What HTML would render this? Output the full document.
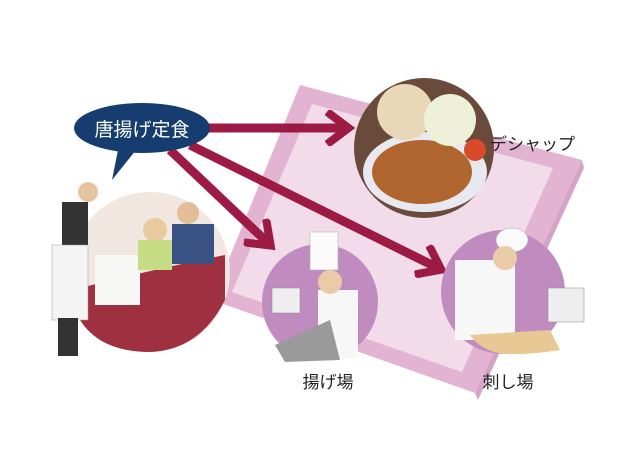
<!DOCTYPE html>
<html><head><meta charset="utf-8"><style>
body{margin:0;width:640px;height:467px;background:#fff;overflow:hidden;font-family:"Liberation Sans","Noto Sans CJK JP",sans-serif}
</style></head><body>
<svg width="640" height="467" viewBox="0 0 640 467" xmlns="http://www.w3.org/2000/svg">
<defs>
<marker id="ah" markerWidth="4" markerHeight="4" refX="2.2" refY="2" orient="auto" markerUnits="strokeWidth">
<path d="M0.2,0.2 L2.6,2 L0.2,3.8" fill="none" stroke="#9c1a43" stroke-width="0.9"/>
</marker>
</defs>
<polygon points="300,85 582,160 475,393 212,300" fill="#e2b4d2"/>
<polygon points="582,160 584,168 478,400 475,393" fill="#d6a2c6"/>
<polygon points="312,104 553,168 462,372 232,292" fill="#f2dce9"/>
<g stroke="#9c1a43" stroke-width="9" fill="none" marker-end="url(#ah)">
<line x1="200" y1="128" x2="345" y2="128"/>
<line x1="170" y1="150" x2="268" y2="243"/>
<line x1="190" y1="145" x2="438" y2="268"/>
</g>
<circle cx="150" cy="272" r="80" fill="#f1e6e0"/>
<path d="M72,290 Q150,270 225,255 L225,300 Q200,350 150,352 Q100,352 80,320Z" fill="#9e3040"/>
<rect x="95" y="255" width="45" height="50" fill="#f7f7f5"/>
<circle cx="155" cy="230" r="12" fill="#e9c9a0"/>
<rect x="138" y="240" width="34" height="30" fill="#c7dd85"/>
<circle cx="188" cy="213" r="11" fill="#e2bd95"/>
<rect x="172" y="224" width="42" height="40" fill="#3a5283"/>
<circle cx="88" cy="192" r="10" fill="#e5c4a0"/>
<rect x="62" y="202" width="26" height="50" fill="#333"/>
<rect x="52" y="245" width="36" height="75" fill="#f4f4f4" stroke="#999" stroke-width="0.5"/>
<rect x="58" y="318" width="20" height="38" fill="#333"/>
<path d="M118,150 L112,180 L136,150Z" fill="#163d70"/>
<ellipse cx="142" cy="128" rx="68" ry="25" fill="#163d70"/>
<text x="142" y="136" text-anchor="middle" font-size="19" fill="#fff">唐揚げ定食</text>
<circle cx="424" cy="148" r="70" fill="#6a4a3a"/>
<ellipse cx="425" cy="172" rx="62" ry="40" fill="#e8e8f0"/>
<circle cx="405" cy="112" r="28" fill="#e9d8b8"/>
<ellipse cx="422" cy="172" rx="50" ry="32" fill="#b0652e"/>
<circle cx="450" cy="120" r="26" fill="#eef0d8"/>
<circle cx="475" cy="150" r="11" fill="#d84a2a"/>
<text x="490" y="150" font-size="17" fill="#222">デシャップ</text>
<circle cx="320" cy="302" r="58" fill="#c08cc0"/>
<rect x="318" y="290" width="40" height="68" fill="#f7f7f7"/>
<rect x="310" y="232" width="28" height="38" fill="#fafafa" stroke="#aaa" stroke-width="0.5"/>
<circle cx="330" cy="282" r="12" fill="#e9cba8"/>
<rect x="272" y="288" width="28" height="25" fill="#eee" stroke="#888" stroke-width="0.5"/>
<path d="M275,345 L330,320 L340,360 L285,362Z" fill="#9a9a9a"/>
<circle cx="503" cy="292" r="62" fill="#c08cc0"/>
<rect x="455" y="260" width="60" height="80" fill="#f7f7f7"/>
<ellipse cx="512" cy="240" rx="16" ry="12" fill="#fafafa" stroke="#aaa" stroke-width="0.5"/>
<circle cx="505" cy="258" r="12" fill="#e9cba8"/>
<path d="M470,335 L550,330 L560,350 Q530,355 503,354 Q480,350 470,335Z" fill="#e8c894"/>
<rect x="548" y="288" width="36" height="34" fill="#eee" stroke="#888" stroke-width="0.5"/>
<text x="328" y="388" text-anchor="middle" font-size="17" fill="#222">揚げ場</text>
<text x="508" y="388" text-anchor="middle" font-size="17" fill="#222">刺し場</text>
</svg>
</body></html>
